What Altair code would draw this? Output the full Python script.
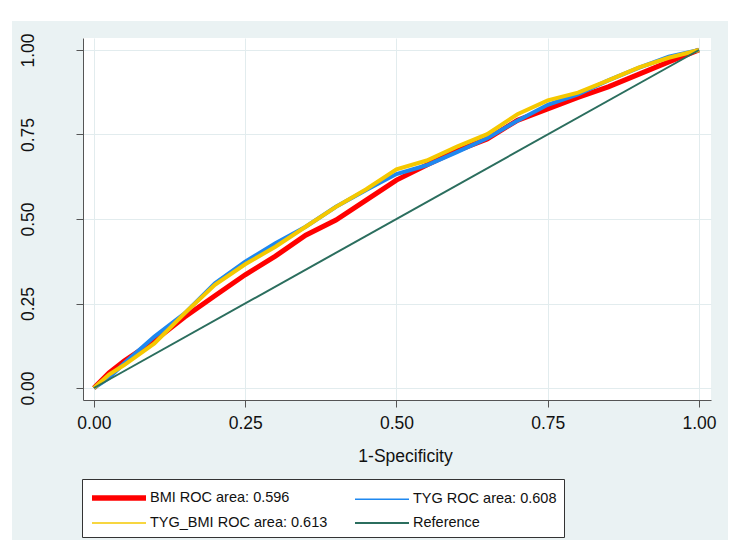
import altair as alt
import pandas as pd

# ---- data ----
fpr = [0, 0.025, 0.05, 0.10, 0.15, 0.20, 0.25, 0.30, 0.35, 0.40, 0.45, 0.50,
       0.55, 0.60, 0.65, 0.70, 0.75, 0.80, 0.85, 0.90, 0.95, 1.00]
tpr_bmi = [0, 0.045, 0.080, 0.140, 0.210, 0.273, 0.335, 0.390, 0.452, 0.497, 0.556, 0.615,
           0.660, 0.702, 0.737, 0.792, 0.826, 0.860, 0.891, 0.928, 0.965, 1.0]
tpr_tyg = [0, 0.030, 0.073, 0.152, 0.221, 0.310, 0.374, 0.428, 0.477, 0.536, 0.586, 0.633,
           0.659, 0.698, 0.739, 0.791, 0.838, 0.869, 0.910, 0.947, 0.980, 1.0]
tpr_tygbmi = [0, 0.040, 0.068, 0.132, 0.221, 0.305, 0.366, 0.418, 0.477, 0.536, 0.588, 0.647,
              0.673, 0.714, 0.751, 0.810, 0.851, 0.874, 0.910, 0.948, 0.977, 1.0]
ref_x = [0, 1]
ref_y = [0, 1]

names = ["BMI ROC area: 0.596", "TYG ROC area: 0.608",
         "TYG_BMI ROC area: 0.613", "Reference"]
colors = ["#FF0000", "#1E88F0", "#F5C800", "#2B6E5E"]
plot_widths = [5, 4, 4, 2]
legend_widths = [5.5, 1.5, 1.5, 2]
# legend fills column by column: this order gives rows (BMI, TYG) / (TYG_BMI, Reference)
legend_order = [0, 2, 1, 3]
x_ticks = [0, 0.25, 0.5, 0.75, 1.0]
y_ticks = [0, 0.25, 0.5, 0.75, 1.0]

FONT = "Liberation Sans"
BG = "#EAF2F3"
GRID = "#E2ECEE"

series = [
    (names[0], fpr, tpr_bmi),
    (names[1], fpr, tpr_tyg),
    (names[2], fpr, tpr_tygbmi),
    (names[3], ref_x, ref_y),
]

x_scale = alt.Scale(domain=[-0.018, 1.0198], nice=False, zero=False)
y_scale = alt.Scale(domain=[-0.0355, 1.0355], nice=False, zero=False)

x_axis = alt.Axis(values=x_ticks, format=".2f", title="1-Specificity",
                  labelFont=FONT, labelFontSize=17.5, labelColor="#111",
                  labelPadding=7, tickSize=7, tickColor="#555", domainColor="#555",
                  grid=True, gridColor=GRID, gridWidth=1,
                  titleFont=FONT, titleFontSize=17.5, titleFontWeight="normal",
                  titleColor="#111", titlePadding=16, titleX=322, titleAlign="center")
y_axis = alt.Axis(values=y_ticks, format=".2f", title="",
                  labelFont=FONT, labelFontSize=17.5, labelColor="#111",
                  labelAngle=270, labelAlign="center", labelBaseline="bottom",
                  labelPadding=39, tickSize=7, tickColor="#555", domainColor="#555",
                  grid=True, gridColor=GRID, gridWidth=1)

layers = []

# white page strips outside the light graph region (decoration only)
strip = pd.DataFrame({"k": [0]})
layers.append(alt.Chart(strip).mark_rect(color="white").encode(
    x=alt.value(-75), x2=alt.value(-71), y=alt.value(-30), y2=alt.value(502)))
layers.append(alt.Chart(strip).mark_rect(color="white").encode(
    x=alt.value(-75), x2=alt.value(645), y=alt.value(-30), y2=alt.value(-17)))

for i, (nm, xs, ys) in enumerate(series):
    df = pd.DataFrame({"fpr": xs, "tpr": ys})
    layers.append(
        alt.Chart(df).mark_line(color=colors[i], strokeWidth=plot_widths[i]).encode(
            x=alt.X("fpr:Q", scale=x_scale, axis=x_axis),
            y=alt.Y("tpr:Q", scale=y_scale, axis=y_axis),
        )
    )

# legend-only layer (single point per series draws nothing visible)
l_names = [names[k] for k in legend_order]
l_colors = [colors[k] for k in legend_order]
l_widths = [legend_widths[k] for k in legend_order]
leg_df = pd.DataFrame({"series": l_names, "fpr": [0] * 4, "tpr": [0] * 4})
leg = alt.Legend(title=None, orient="none", legendX=-1, legendY=441, columns=2,
                 columnPadding=23, rowPadding=4, padding=7,
                 fillColor="white", strokeColor="#333",
                 symbolType="M-1,0H5", symbolSize=324, labelOffset=37,
                 labelFont=FONT, labelFontSize=14.5, labelColor="#111", labelLimit=400)
layers.append(
    alt.Chart(leg_df).mark_line().encode(
        x=alt.X("fpr:Q", scale=x_scale, axis=x_axis),
        y=alt.Y("tpr:Q", scale=y_scale, axis=y_axis),
        color=alt.Color("series:N", scale=alt.Scale(domain=l_names, range=l_colors), legend=leg),
        strokeWidth=alt.StrokeWidth("series:N",
                                    scale=alt.Scale(type="ordinal", domain=l_names, range=l_widths),
                                    legend=leg),
    )
)

chart = alt.layer(*layers).properties(
    width=628, height=362, background=BG,
    autosize=alt.AutoSizeParams(type="none"),
    padding={"left": 75, "top": 30, "right": 17, "bottom": 140},
).configure_view(fill="white", strokeWidth=0).configure_legend(strokeWidth=1)

chart.save("out.html", embed_options={"renderer": "svg", "actions": False})
